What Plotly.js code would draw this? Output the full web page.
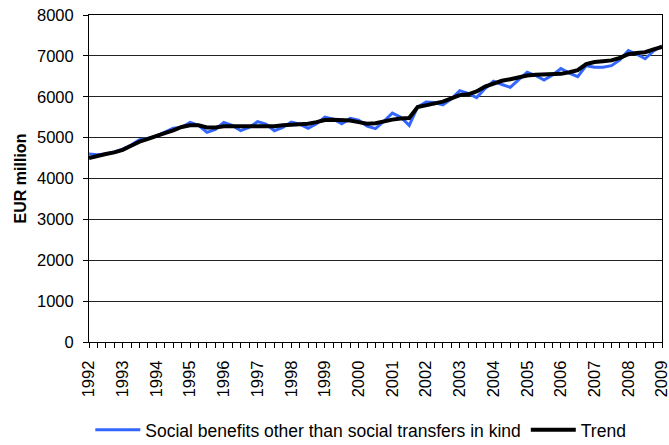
<!DOCTYPE html>
<html>
<head>
<meta charset="utf-8">
<script src="https://cdn.plot.ly/plotly-3.0.1.min.js"></script>
<style>html,body{margin:0;padding:0;background:#fff;}#chart{width:669px;height:445px;}</style>
</head>
<body>
<div id="chart"></div>
<script>
// Quarterly positions 1992.00 .. 2009.00
const startYear = 1992;
const quarters = 69;
const socialBenefits = [
  4600, 4580, 4600, 4650,
  4720, 4820, 4950, 4980,
  5040, 5130, 5230, 5250,
  5370, 5300, 5130, 5200,
  5370, 5300, 5170, 5250,
  5390, 5330, 5170, 5250,
  5380, 5330, 5230, 5340,
  5500, 5450, 5340, 5470,
  5430, 5280, 5220, 5400,
  5600, 5500, 5300, 5750,
  5870, 5860, 5800, 5950,
  6150, 6080, 5980, 6200,
  6380, 6300, 6230, 6420,
  6600, 6520, 6410, 6530,
  6690, 6580, 6490, 6760,
  6720, 6720, 6760, 6900,
  7130, 7040, 6930, 7120,
  7250
];
const trend = [
  4500, 4560, 4600, 4640,
  4700, 4800, 4900, 4970,
  5030, 5110, 5180, 5260,
  5300, 5300, 5250, 5250,
  5280, 5280, 5270, 5280,
  5290, 5290, 5280, 5300,
  5310, 5320, 5340, 5380,
  5430, 5440, 5440, 5420,
  5380, 5340, 5350, 5400,
  5440, 5470, 5480, 5750,
  5800, 5840, 5880, 5960,
  6040, 6060, 6130, 6250,
  6330, 6390, 6430, 6480,
  6520, 6540, 6540, 6550,
  6560, 6600, 6650, 6800,
  6850, 6870, 6890, 6950,
  7040, 7070, 7090, 7160,
  7220
];
const yearTicks = [1992,1993,1994,1995,1996,1997,1998,1999,2000,2001,2002,2003,2004,2005,2006,2007,2008,2009];
const yearLabels = yearTicks.map(String);
const seriesNames = ["Social benefits other than social transfers in kind", "Trend"];
const yTitle = "EUR million";

const xs = [];
for (let i = 0; i < quarters; i++) xs.push(startYear + i / 4);

const font = "Liberation Sans, Arial, sans-serif";
const data = [
  {x: xs, y: socialBenefits, type: "scatter", mode: "lines", name: seriesNames[0],
   line: {color: "#3366FF", width: 3}},
  {x: xs, y: trend, type: "scatter", mode: "lines", name: seriesNames[1],
   line: {color: "#000000", width: 4}}
];
const layout = {
  width: 669, height: 445,
  margin: {l: 89, r: 7, t: 15, b: 103, autoexpand: false},
  paper_bgcolor: "#fff", plot_bgcolor: "#fff",
  font: {family: font, size: 16, color: "#000"},
  showlegend: true,
  legend: {orientation: "h", xref: "container", yref: "container",
           x: 0.135, xanchor: "left", y: 0.034, yanchor: "middle",
           font: {family: font, size: 17.5, color: "#000"}, itemwidth: 45,
           tracegroupgap: 0, bgcolor: "rgba(0,0,0,0)"},
  xaxis: {
    range: [1992, 2009], tickmode: "array", tickvals: yearTicks, ticktext: yearLabels,
    tickangle: -90, ticks: "outside", ticklen: 5, tickcolor: "#000", tickwidth: 1,
    ticklabelstandoff: 6, ticklabeloverflow: "allow",
    showline: true, linecolor: "#000", linewidth: 1, mirror: true,
    showgrid: false, zeroline: false,
    minor: {dtick: 0.25, ticks: "outside", ticklen: 5, tickcolor: "#000", showgrid: false},
    tickfont: {family: font, size: 16.5, color: "#000"}
  },
  yaxis: {
    range: [0, 8000], dtick: 1000, tick0: 0, ticks: "outside", ticklen: 5, tickcolor: "#000",
    ticklabelstandoff: 6,
    showline: true, linecolor: "#000", linewidth: 1, mirror: true,
    showgrid: true, gridcolor: "#222", gridwidth: 1, zeroline: false,
    tickfont: {family: font, size: 16.5, color: "#000"},
    title: {text: "<b>" + yTitle + "</b>", font: {family: font, size: 16, color: "#000"}, standoff: 6}
  }
};
Plotly.newPlot("chart", data, layout, {displayModeBar: false, staticPlot: true});
</script>
</body>
</html>
